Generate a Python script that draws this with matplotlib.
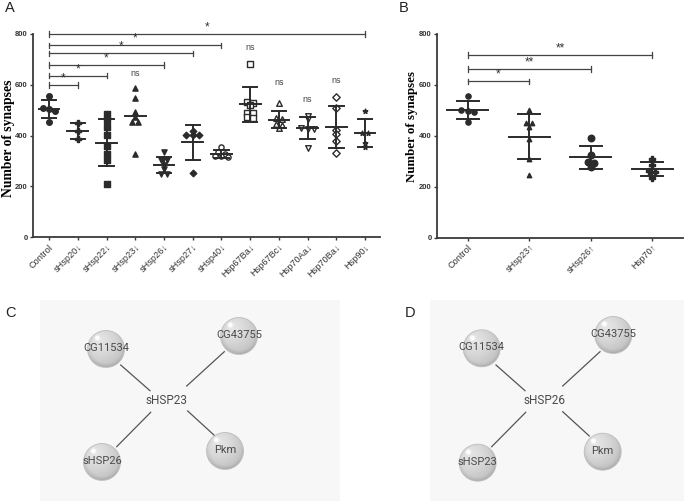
import matplotlib
matplotlib.use('Agg')

import numpy as np
import matplotlib.pyplot as plt
from matplotlib.patches import Circle, Rectangle

# ---- panel A: knock-down lines ----
groups_a = ['Control', 'sHsp20↓', 'sHsp22↓', 'sHsp23↓', 'sHsp26↓', 'sHsp27↓',
            'sHsp40↓', 'Hsp67Ba↓', 'Hsp67Bc↓', 'Hsp70Aa↓', 'Hsp70Ba↓', 'Hsp90↓']
control = [557, 498, 503, 508, 455]
shsp20_kd = [451, 419, 386]
shsp22_kd = [485, 460, 433, 402, 359, 327, 304, 208]
shsp23_kd = [586, 547, 494, 475, 454, 454, 327]
shsp26_kd = [337, 303, 303, 284, 268, 248, 248]
shsp27_kd = [418, 401, 401, 401, 252]
shsp40_kd = [356, 334, 328, 318, 315, 318]
hsp67ba_kd = [682, 531, 529, 520, 490, 488, 472, 470]
hsp67bc_kd = [527, 470, 465, 447, 440, 430]
hsp70aa_kd = [478, 466, 430, 428, 425, 352]
hsp70ba_kd = [553, 510, 422, 405, 380, 333]
hsp90_kd = [498, 412, 410, 372, 355]
values_a = [control, shsp20_kd, shsp22_kd, shsp23_kd, shsp26_kd, shsp27_kd,
            shsp40_kd, hsp67ba_kd, hsp67bc_kd, hsp70aa_kd, hsp70ba_kd, hsp90_kd]
sig_targets_a = [1, 2, 4, 5, 6, 11]
sig_levels_a = [600, 636, 677, 724, 755, 800]
sig_labels_a = ['*', '*', '*', '*', '*', '*']
ns_groups_a = [3, 7, 8, 9, 10]
ns_levels_a = [628, 728, 593, 523, 598]

# ---- panel B: over-expression lines ----
groups_b = ['Control', 'sHsp23↑', 'sHsp26↑', 'Hsp70↑']
control_b = [557, 498, 494, 502, 454]
shsp23_oe = [501, 449, 449, 433, 386, 310, 246]
shsp26_oe = [390, 325, 296, 292, 276]
hsp70_oe = [310, 285, 262, 258, 233]
values_b = [control_b, shsp23_oe, shsp26_oe, hsp70_oe]
sig_targets_b = [1, 2, 3]
sig_levels_b = [613, 662, 717]
sig_labels_b = ['*', '**', '**']

# ---- panels C, D: interaction networks ----
net_c_center = 'sHSP23'
net_c_nodes = ['CG11534', 'CG43755', 'sHSP26', 'Pkm']
net_d_center = 'sHSP26'
net_d_nodes = ['CG11534', 'CG43755', 'sHSP23', 'Pkm']

W, H = 684, 501
INK = '#2b2b2b'
SANS = ['Liberation Sans', 'DejaVu Sans']
NARROW = ['Liberation Sans Narrow', 'Liberation Sans', 'DejaVu Sans']


def swarm_offsets(vals, tol, step):
    # spread points that sit at nearly the same height into a row
    vals = np.asarray(vals, float)
    order = np.argsort(-vals)
    offs = np.zeros(len(vals))
    group = [order[0]]
    groups = []
    for k in order[1:]:
        if abs(vals[k] - vals[group[-1]]) < tol:
            group.append(k)
        else:
            groups.append(group)
            group = [k]
    groups.append(group)
    for g in groups:
        n = len(g)
        for j, k in enumerate(g):
            offs[k] = (j - (n - 1) / 2) * step
    return offs


def style_axis(ax, names, xlim, label_size, label_xy):
    ax.set_xlim(*xlim)
    ax.set_ylim(0, 800)
    ax.set_yticks([0, 200, 400, 600, 800])
    ax.set_xticks(range(len(names)))
    ax.set_xticklabels(names, rotation=45, ha='right', rotation_mode='anchor',
                       fontsize=6.6, color='#333333', family=SANS)
    for lab in ax.get_yticklabels():
        lab.set_fontsize(5.5)
        lab.set_fontweight('bold')
        lab.set_family(NARROW)
        lab.set_color('#333333')
    for s in ['top', 'right']:
        ax.spines[s].set_visible(False)
    for s in ['left', 'bottom']:
        ax.spines[s].set_linewidth(1.3)
        ax.spines[s].set_color('#3a3a3a')
    ax.tick_params(axis='both', length=2.5, width=1.0, color='#3a3a3a', pad=1.2)
    ax.set_ylabel('Number of synapses', family=['Liberation Serif', 'DejaVu Serif'],
                  fontweight='bold', fontsize=label_size)
    ax.yaxis.label.set_va('center')
    ax.yaxis.set_label_coords(*label_xy)
    ax.patch.set_alpha(0)


def draw_groups(ax, values, markers, unit_px, mean_w, cap_w, no_err=()):
    for i, (vals, (m, filled, ms)) in enumerate(zip(values, markers)):
        offs = swarm_offsets(vals, 8, 6.3 / unit_px)
        ax.scatter(i + offs, vals, marker=m, s=ms,
                   facecolors=INK if filled else 'white',
                   edgecolors=INK, linewidths=1.0, zorder=3)
        mu = np.mean(vals)
        sd = np.std(vals, ddof=1)
        ax.plot([i - mean_w, i + mean_w], [mu, mu], color=INK, lw=1.4, zorder=4)
        if i in no_err:
            continue
        ax.plot([i, i], [mu - sd, mu + sd], color=INK, lw=1.4, zorder=4)
        for y in (mu - sd, mu + sd):
            ax.plot([i - cap_w, i + cap_w], [y, y], color=INK, lw=1.4, zorder=4)


def draw_brackets(ax, targets, levels, labels, tick):
    for t, y, lab in zip(targets, levels, labels):
        ax.plot([0, t], [y, y], color='#444444', lw=0.9, clip_on=False)
        for x in (0, t):
            ax.plot([x, x], [y - tick, y + tick], color='#444444', lw=0.9, clip_on=False)
        ax.text(t / 2, y + 2, lab, ha='center', va='bottom', fontsize=8.5,
                color='#333333', family=SANS, clip_on=False)


fig = plt.figure(figsize=(W / 100, H / 100), dpi=100)
fig.patch.set_facecolor('white')

# overlay in pixel coordinates for the network panels and panel letters
ov = fig.add_axes([0, 0, 1, 1])
ov.set_xlim(0, W)
ov.set_ylim(H, 0)
ov.axis('off')

ov.add_patch(Rectangle((40, 300), 300, 201, color='#f7f7f7', lw=0, zorder=0))
ov.add_patch(Rectangle((430, 300), 254, 201, color='#f7f7f7', lw=0, zorder=0))

yy, xx = np.mgrid[-1:1:80j, -1:1:80j]
dist = np.hypot(xx + 0.35, yy + 0.4)
shade = 0.90 - 0.16 * np.clip(dist / 1.6, 0, 1) ** 1.3
spot = np.exp(-((xx + 0.5) ** 2 + (yy + 0.58) ** 2) / 0.012)
shade = np.clip(shade + 0.25 * spot, 0, 1)
rim = np.hypot(xx, yy)
shade = shade - 0.08 * np.clip((rim - 0.8) / 0.2, 0, 1) * (yy + 1) / 2
sphere_img = np.dstack([shade, shade, shade])


def draw_network(center, nodes, layout, center_xy, spokes):
    cx, cy = center_xy
    for (x0, y0, x1, y1) in spokes:
        ov.plot([x0, x1], [y0, y1], color='#555555', lw=0.9, zorder=1)
    for name, (nx, ny) in zip(nodes, layout):
        r = 18.5
        circ = Circle((nx, ny), r, transform=ov.transData, facecolor='none',
                      edgecolor='#bdbdbd', lw=0.6, zorder=3)
        im = ov.imshow(sphere_img, extent=[nx - r, nx + r, ny + r, ny - r],
                       zorder=2, interpolation='bilinear', aspect='auto')
        im.set_clip_path(circ)
        ov.add_patch(circ)
        ov.text(nx, ny - 1, name, ha='center', va='center', fontsize=8,
                color='#4a4a4a', family=['Roboto', 'DejaVu Sans'], zorder=4)
    ov.text(cx, cy, center, ha='center', va='center', fontsize=8.5,
            color='#4a4a4a', family=['Roboto', 'DejaVu Sans'], zorder=4)


draw_network(net_c_center, net_c_nodes,
             [(106, 349), (239, 336), (102, 462), (225, 451)], (167, 401),
             [(120.7, 365, 150, 390.7), (186.7, 386, 224.3, 351.7),
              (150.7, 412.3, 116.7, 446.7), (187.7, 411, 215, 436)])
draw_network(net_d_center, net_d_nodes,
             [(481.7, 348.3), (613.3, 335), (477.7, 462.7), (602.7, 451.7)], (544.3, 400),
             [(496, 365, 525, 390.7), (562.7, 386, 600, 351.7),
              (525.7, 412.3, 491.7, 446.7), (562.7, 411.7, 589.3, 436)])

for lab, (x, y) in zip('ABCD', [(10, 8), (404, 8), (10, 313), (410, 313)]):
    ov.text(x, y, lab, ha='center', va='center', fontsize=10.5, color='#222222',
            family=SANS)

# panel A
axA = fig.add_axes([33 / W, 1 - 237.3 / H, (380 - 33) / W, (237.3 - 34) / H])
markers_a = [('o', True, 16), ('P', True, 16), ('s', True, 14), ('^', True, 14),
             ('v', True, 14), ('D', True, 11), ('o', False, 14), ('s', False, 16),
             ('^', False, 16), ('v', False, 16), ('D', False, 14), ('*', True, 12)]
draw_groups(axA, values_a, markers_a, 28.73, 0.36, 0.25, no_err=(3,))
draw_brackets(axA, sig_targets_a, sig_levels_a, sig_labels_a, 11)
for g, y in zip(ns_groups_a, ns_levels_a):
    axA.text(g, y, 'ns', ha='center', va='bottom', fontsize=6.5, color='#444444',
             family=SANS)
style_axis(axA, groups_a, (-0.56, 11.52), 9.8, (-24.7 / 347, 0.486))

# panel B
axB = fig.add_axes([437 / W, 1 - 237.7 / H, (683 - 437) / W, (237.7 - 33.7) / H])
markers_b = [('o', True, 14), ('^', True, 10), ('o', True, 22), ('P', True, 16)]
draw_groups(axB, values_b, markers_b, 61.3, 0.33, 0.18)
draw_brackets(axB, sig_targets_b, sig_levels_b, sig_labels_b, 11)
style_axis(axB, groups_b, (-0.5, 3.5), 9.3, (-25 / 246, 0.543))

fig.savefig('out.png', dpi=100)
